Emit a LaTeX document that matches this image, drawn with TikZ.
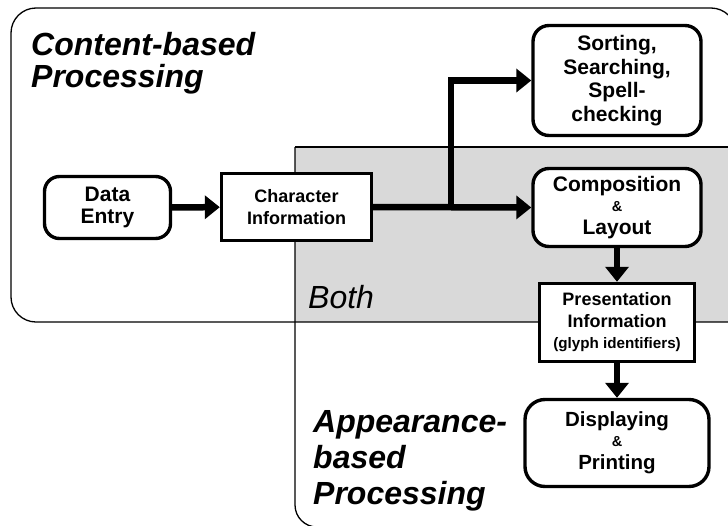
\documentclass[tikz,border=0pt]{standalone}
\usepackage{fontspec}
\setmainfont{Liberation Sans}
\usetikzlibrary{arrows.meta}
\definecolor{bothgray}{RGB}{217,217,217}
\tikzset{
  box/.style={draw=black, line width=3.4pt, fill=white, inner sep=0pt, align=center,
    font=\fontsize{21}{22}\selectfont\bfseries},
  rbox/.style={box, rounded corners=15pt},
  flow/.style={line width=6.5pt, -{Triangle[length=15pt,width=23pt]}},
  region/.style={draw=black, line width=1.3pt},
  title/.style={font=\fontsize{32}{36}\selectfont\bfseries\itshape, align=left, inner sep=0pt, anchor=base west},
}
\begin{document}
\begin{tikzpicture}[x=1pt,y=-1pt]
\useasboundingbox (0,0) rectangle (728,525);
% regions
\fill[bothgray] (295,147) rectangle (760,322);
\draw[region, rounded corners=25pt] (760,322) -- (11,322) -- (11,8) -- (736,8) -- (736,420);
\draw[region, rounded corners=22pt] (295,147) -- (295,527) -- (760,527);
\draw[region] (295,147) -- (760,147);
% titles
\node[title, font=\fontsize{32}{32}\selectfont\bfseries\itshape] (tcont) at (31,87) {Content-based\\Processing};
\node[title, font=\fontsize{32}{36}\selectfont\itshape] (tboth) at (308,308) {Both};
\node[title] (tapp) at (313,504) {Appearance-\\based\\Processing};
% nodes
\node[rbox, minimum width=126pt, minimum height=62pt] (de) at (107.5,207.5) {Data\\Entry};
\node[box, minimum width=150pt, minimum height=67pt,
  font=\fontsize{18}{22}\selectfont\bfseries] (ci) at (296.5,207) {Character\\Information};
\node[rbox, minimum width=168pt, minimum height=110pt, rounded corners=16pt,
  font=\fontsize{21}{23.5}\selectfont\bfseries] (sort) at (617,80.5) {Sorting,\\Searching,\\Spell-\\checking};
\node[rbox, minimum width=168pt, minimum height=78pt, rounded corners=16pt] (comp) at (617,207.5)
  {Composition\\[-2pt]{\fontsize{14.5}{14}\selectfont\&}\\[1pt]Layout};
\node[box, minimum width=155pt, minimum height=78pt,
  font=\fontsize{18}{22}\selectfont\bfseries] (pres) at (617,322.5)
  {Presentation\\Information\\[-1pt]{\fontsize{15.2}{16}\selectfont(glyph identifiers)}};
\node[rbox, minimum width=184pt, minimum height=87pt, rounded corners=20pt,
  font=\fontsize{20.5}{22}\selectfont\bfseries] (disp) at (617,443)
  {Displaying\\[-2pt]{\fontsize{14.5}{14}\selectfont\&}\\[1pt]Printing};
% connectors
\coordinate (j) at (451,207);
\draw[flow] (de) -- (ci);
\draw[flow] (ci.east) -- (comp.west);
\draw[flow] (j) |- (sort.west);
\draw[flow] (comp) -- (pres);
\draw[flow] (pres) -- (disp);
\end{tikzpicture}
\end{document}
